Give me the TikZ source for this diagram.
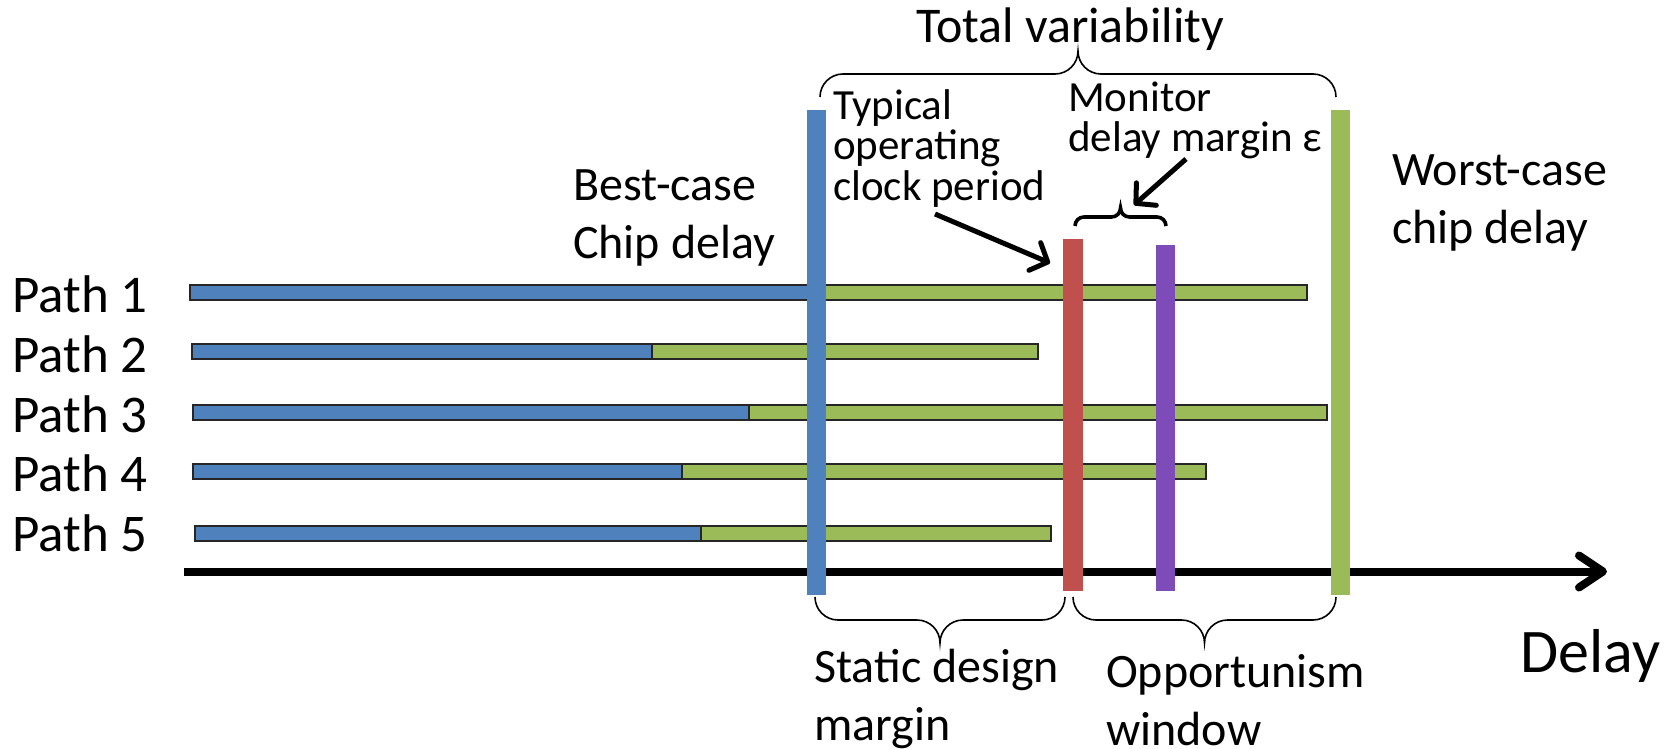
\documentclass[tikz,border=0pt]{standalone}
\usepackage{fontspec}
\setmainfont{Carlito}
\usetikzlibrary{arrows.meta,calc}
\definecolor{pathblue}{RGB}{79,129,189}
\definecolor{pathgreen}{RGB}{155,187,89}
\definecolor{clockred}{RGB}{192,80,77}
\definecolor{monpurple}{RGB}{126,76,184}
\begin{document}
\begin{tikzpicture}[x=1pt,y=-1pt,
  lbl/.style={inner sep=0pt, anchor=base west, align=left, font=\fontsize{48}{57.5}\selectfont},
  lblsm/.style={lbl, font=\fontsize{43}{40.5}\selectfont},
  pathlbl/.style={lbl, font=\fontsize{53}{60}\selectfont},
  bestbar/.style={draw=black!85, line width=1.2pt, fill=pathblue},
  worstbar/.style={draw=black!85, line width=1.2pt, fill=pathgreen},
  vbar/.style={rectangle, inner sep=0pt, draw=none, minimum width=19.5pt},
  axisline/.style={line width=8pt, -{Straight Barb[length=24pt,width=32pt,round]}},
  callout/.style={line width=5pt, -{Straight Barb[length=14pt,width=30pt,round]}},
  thinbrace/.style={line width=1.6pt},
  thickbrace/.style={line width=3.6pt},
  % curly brace between two points; #1 = signed half depth (canvas units)
  pbrace/.style={to path={
    let \p1=(\tikztostart), \p2=(\tikztotarget), \n1={#1}, \n2={abs(#1)}, \n3={(\x1+\x2)/2} in
    .. controls (\x1,{\y1+0.552*\n1}) and ({\x1+0.448*\n2},{\y1+\n1}) .. ({\x1+\n2},{\y1+\n1})
    -- ({\n3-\n2},{\y1+\n1})
    .. controls ({\n3-0.448*\n2},{\y1+\n1}) and (\n3,{\y1+1.448*\n1}) .. (\n3,{\y1+2*\n1})
    .. controls (\n3,{\y1+1.448*\n1}) and ({\n3+0.448*\n2},{\y1+\n1}) .. ({\n3+\n2},{\y1+\n1})
    -- ({\x2-\n2},{\y1+\n1})
    .. controls ({\x2-0.448*\n2},{\y1+\n1}) and (\x2,{\y1+0.552*\n1}) .. (\x2,\y2)
  }}
]
\useasboundingbox (0,0) rectangle (1665,749);

% path delay bars: best-case part (blue) and variation up to worst case (green)
\draw[bestbar]  (190,285) rectangle (816,300);
\draw[worstbar] (816,285) rectangle (1307,300);
\draw[bestbar]  (192,344) rectangle (652,359);
\draw[worstbar] (652,344) rectangle (1038,359);
\draw[bestbar]  (193,405) rectangle (749,420);
\draw[worstbar] (749,405) rectangle (1327,420);
\draw[bestbar]  (193,464) rectangle (682,479);
\draw[worstbar] (682,464) rectangle (1206,479);
\draw[bestbar]  (195,526) rectangle (701,541);
\draw[worstbar] (701,526) rectangle (1051,541);

% delay axis
\coordinate (axS) at (184,571.5);
\coordinate (axE) at (1607,571.5);
\draw[axisline] (axS) -- (axE);

% vertical markers
\node[vbar, fill=pathblue,   minimum height=485pt] (bestline)  at (816.5,352.5) {};
\node[vbar, fill=clockred,   minimum height=352pt] (clockline) at (1073,415) {};
\node[vbar, fill=monpurple,  minimum height=346pt] (monline)   at (1165.5,418) {};
\node[vbar, fill=pathgreen,  minimum height=485pt] (worstline) at (1340.5,352.5) {};

% path labels
\node[pathlbl] (p1) at (12,312) {Path 1};
\node[pathlbl] (p2) at (12,372) {Path 2};
\node[pathlbl] (p3) at (12,432) {Path 3};
\node[pathlbl] (p4) at (12,491) {Path 4};
\node[pathlbl] (p5) at (12,551) {Path 5};

% annotations (base anchor = baseline of the last line)
\node[lbl, anchor=base, font=\fontsize{50}{60}\selectfont] (tv) at (1070,43) {Total variability};
\node[lbl] (bc) at (573,258) {Best-case\\Chip delay};
\node[lblsm] (typ) at (833,200) {Typical\\operating\\clock period};
\node[lblsm] (mon) at (1068,152) {Monitor\\delay margin ε};
\node[lbl] (wc) at (1392,243) {Worst-case\\chip delay};
\node[lbl] (sdm) at (814,740) {Static design\\margin};
\node[lbl] (ow) at (1106,745) {Opportunism\\window};
\node[lbl, font=\fontsize{62}{70}\selectfont] (dl) at (1520,672) {Delay};

% braces
\coordinate (tvL) at (820,97);   \coordinate (tvR) at (1336,97);
\coordinate (sdL) at (815,597);  \coordinate (sdR) at (1065,597);
\coordinate (owL) at (1073,597); \coordinate (owR) at (1336,597);
\coordinate (mdL) at (1075,226); \coordinate (mdR) at (1166,226);
\draw[thinbrace]  (tvL) to[pbrace=23] (tvR);
\draw[thinbrace]  (sdL) to[pbrace=-23] (sdR);
\draw[thinbrace]  (owL) to[pbrace=-23] (owR);
\draw[thickbrace] (mdL) to[pbrace=9] (mdR);

% callout arrows
\coordinate (clkFrom) at (935,214); \coordinate (clkTo) at (1050,263);
\coordinate (monFrom) at (1186,159); \coordinate (monTo) at (1134,205);
\draw[callout] (clkFrom) -- (clkTo);
\draw[callout] (monFrom) -- (monTo);
\end{tikzpicture}
\end{document}
